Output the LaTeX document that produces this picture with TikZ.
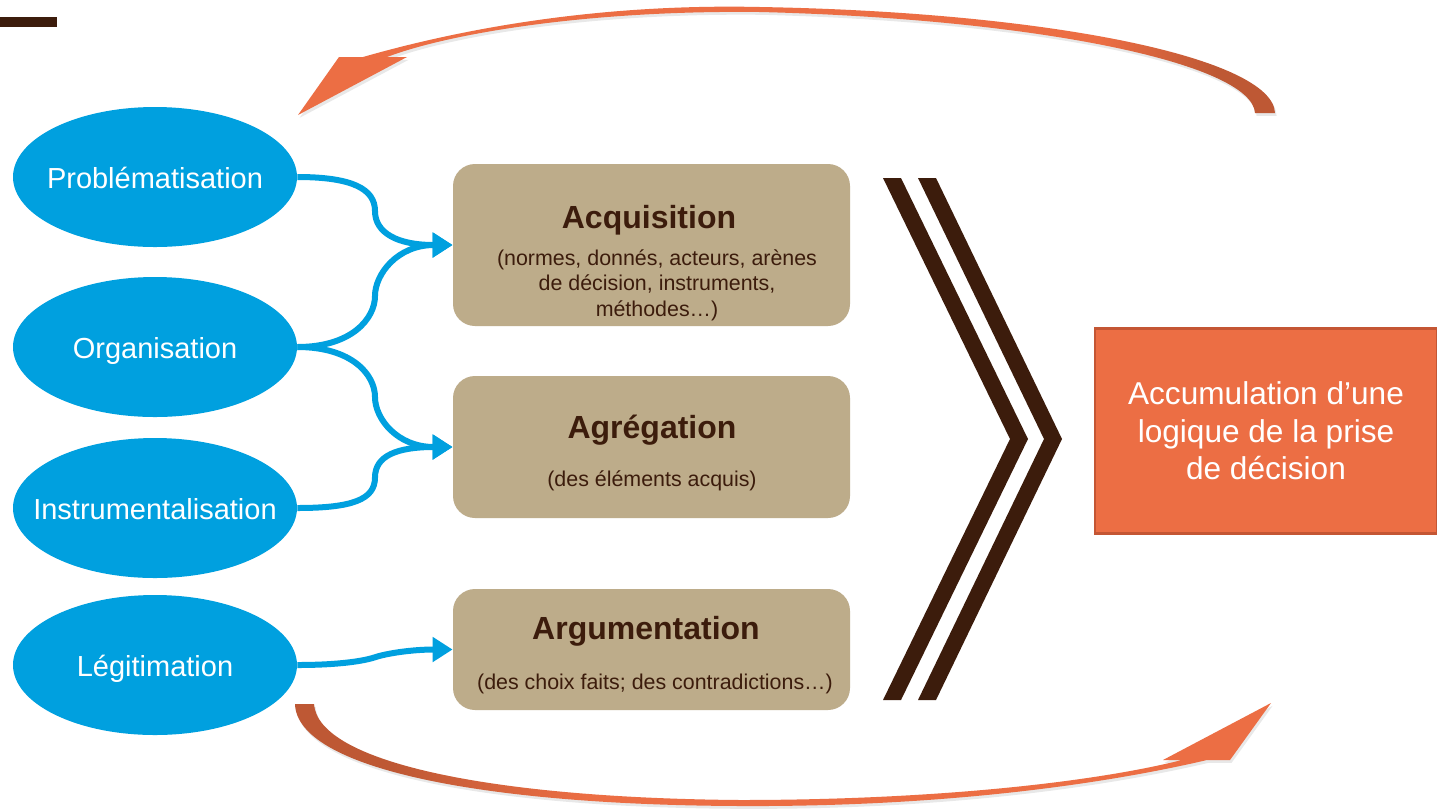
\documentclass[tikz,border=0pt]{standalone}
\usepackage{fontspec}
\setmainfont{Liberation Sans}
\usetikzlibrary{shapes.geometric,arrows.meta,calc,shadows}
\definecolor{eblue}{RGB}{0,160,223}
\definecolor{tanbox}{RGB}{189,172,138}
\definecolor{dbrown}{RGB}{60,28,12}
\definecolor{orA}{RGB}{236,110,68}
\definecolor{orB}{RGB}{190,88,52}
\definecolor{orBorder}{RGB}{196,86,52}
\pgfdeclarehorizontalshading{topshade}{100bp}{color(0bp)=(orA); color(66bp)=(orA); color(72bp)=(orB); color(100bp)=(orB)}
\pgfdeclarehorizontalshading{botshade}{100bp}{color(0bp)=(orB); color(30bp)=(orB); color(40bp)=(orA); color(100bp)=(orA)}
\begin{document}
\begin{tikzpicture}[x=0.5pt,y=-0.5pt,
  ell/.style={ellipse, fill=eblue, minimum width=142pt, minimum height=70pt, inner sep=0pt, text=white, text height=14.9pt, text depth=3.5pt, font=\fontsize{14.5}{17}\selectfont},
  box/.style={rounded corners=11pt, fill=tanbox, minimum width=198.5pt, inner sep=0pt},
  ttl/.style={text=dbrown, inner sep=0pt, font=\bfseries\fontsize{16}{19}\selectfont},
  sub/.style={text=dbrown, align=center, inner sep=0pt, font=\fontsize{10.7}{12.75}\selectfont},
  obox/.style={fill=orA, draw=orBorder, line width=1.2pt, minimum width=171pt, minimum height=102.5pt, text=white, align=center, font=\fontsize{15.8}{18.75}\selectfont},
  conn/.style={eblue, line width=3pt, -{Triangle[length=10pt,width=12pt]}},
  arc/.style={shade, drop shadow={opacity=0.18, shadow xshift=0.8pt, shadow yshift=-1.4pt}}
]
\useasboundingbox (0,0) rectangle (1437,811);
\fill[white] (0,0) rectangle (1437,811);

% small bar top-left
\fill[dbrown] (0,17) rectangle (57,27);

% top curved arrow
\path[arc, shading=topshade]
  (1275,113) .. controls (1273,58) and (1050,12) .. (760,7)
  .. controls (580,3) and (440,35) .. (363,57)
  -- (339,57) -- (298,115) -- (407,57) -- (387,57)
  .. controls (450,33) and (590,10) .. (760,12)
  .. controls (1040,19) and (1252,64) .. (1255,113) -- cycle;

% bottom curved arrow
\path[arc, shading=botshade]
  (295,704) .. controls (297,768) and (480,805) .. (740,806)
  .. controls (940,807) and (1100,785) .. (1207,760)
  -- (1230,760) -- (1271,703) -- (1163,760) -- (1182,760)
  .. controls (1090,783) and (930,800) .. (740,800)
  .. controls (490,798) and (318,762) .. (314,704) -- cycle;

% ellipses
\node[ell] (prob) at (155,177) {\makebox[0pt][c]{Problématisation}};
\node[ell] (org) at (155,347) {\makebox[0pt][c]{Organisation}};
\node[ell] (inst) at (155,508) {\makebox[0pt][c]{Instrumentalisation}};
\node[ell] (leg) at (155,665) {\makebox[0pt][c]{Légitimation}};

% boxes
\node[box, minimum height=81pt] (acq) at (651.5,245) {};
\node[box, minimum height=71pt] (agr) at (651.5,447) {};
\node[box, minimum height=60.5pt] (arg) at (651.5,649.5) {};

\node[ttl] (acqT) at (649,220) {Acquisition};
\node[sub] (acqS) at (657,285) {(normes, donnés, acteurs, arènes\\de décision, instruments,\\méthodes…)};
\node[ttl] (agrT) at (652,430) {Agrégation};
\node[sub] (agrS) at (652,481) {(des éléments acquis)};
\node[ttl] (argT) at (646,631) {Argumentation};
\node[sub] (argS) at (655,684) {(des choix faits; des contradictions…)};

% orange result box
\node[obox] (acc) at (1266,431) {Accumulation d’une\\logique de la prise\\de décision};

% chevrons
\fill[dbrown] (883,178) -- (901,178) -- (1028,439) -- (901,700) -- (883,700) -- (1010,439) -- cycle;
\fill[dbrown] (918,178) -- (936,178) -- (1062,439) -- (936,700) -- (918,700) -- (1044,439) -- cycle;

% connectors
\coordinate (m1) at ($(prob.east)!0.5!(acq.west)$);
\coordinate (m2) at ($(org.east)!0.5!(acq.west)$);
\coordinate (m3) at ($(org.east)!0.5!(agr.west)$);
\coordinate (m4) at ($(inst.east)!0.5!(agr.west)$);
\coordinate (m5) at ($(leg.east)!0.5!(arg.west)$);
\draw[conn] (prob.east) .. controls +(55,0) and +(0,-22) .. (m1) .. controls +(0,22) and +(-55,0) .. (acq.west);
\draw[conn] (org.east) .. controls +(55,0) and +(0,22) .. (m2) .. controls +(0,-22) and +(-55,0) .. (acq.west);
\draw[conn] (org.east) .. controls +(55,0) and +(0,-22) .. (m3) .. controls +(0,22) and +(-55,0) .. (agr.west);
\draw[conn] (inst.east) .. controls +(55,0) and +(0,22) .. (m4) .. controls +(0,-22) and +(-55,0) .. (agr.west);
\draw[conn] (leg.east) .. controls +(40,0) and +(-12,4) .. (m5) .. controls +(12,-4) and +(-40,0) .. (arg.west);
\end{tikzpicture}
\end{document}
